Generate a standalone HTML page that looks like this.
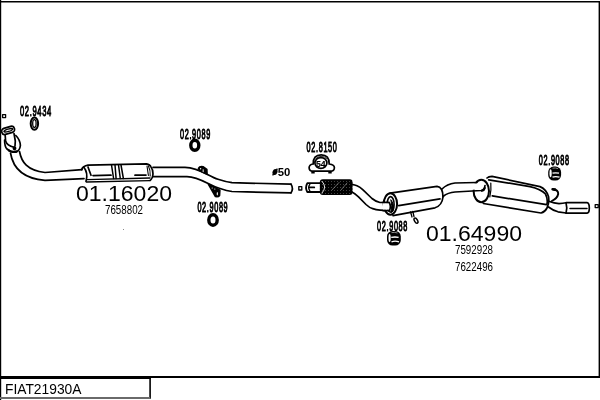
<!DOCTYPE html>
<html><head><meta charset="utf-8">
<style>
html,body{margin:0;padding:0;background:#fff;width:600px;height:400px;overflow:hidden}
svg{display:block;will-change:transform}
text{font-family:"Liberation Sans",sans-serif;fill:#000}
</style></head>
<body>
<svg width="600" height="400" viewBox="0 0 600 400">
<defs>
<pattern id="knurl" x="0" y="0" width="3" height="3" patternUnits="userSpaceOnUse">
<rect width="3" height="3" fill="#000"/>
<circle cx="1.5" cy="1.5" r="0.4" fill="#999"/>
</pattern>
</defs>
<!-- frame -->
<g fill="none" stroke="#000">
<path d="M0.6 0 V400" stroke-width="1.2"/>
<path d="M0 1.7 H600" stroke-width="1.4"/>
<path d="M599.3 1 V378" stroke-width="1.4"/>
<path d="M0 377 H600" stroke-width="2"/>
<path d="M0 378.2 H150.9" stroke-width="1.6"/>
<path d="M150.1 377 V398.8" stroke-width="1.6"/>
<path d="M0 398 H150.1" stroke-width="2" stroke="#6a6a6a"/>
</g>

<g fill="none" stroke="#000" stroke-width="1.7" stroke-linecap="round" stroke-linejoin="round">
<!-- ===== front section ===== -->
<!-- flange -->
<rect x="-6.6" y="-3.1" width="13.2" height="6.2" rx="3" transform="translate(8.1 130.4) rotate(-16)" fill="#fff"/>
<ellipse cx="0" cy="0" rx="4.6" ry="1.2" transform="translate(8.3 130.3) rotate(-16)" stroke-width="1.3"/>
<!-- tube under flange -->
<path d="M5.2,135.5 L5.6,141 Q7,145.5 14,147.3 M14,133.5 L15.3,141 L15,146"/>
<!-- collar -->
<path d="M4.6,140 Q4.6,147 7,149 Q11,152.6 16,152.2 Q19.8,150.5 20.4,145.5 Q20,139.5 15.8,135.5"/>
<path d="M9,150.6 Q12.5,152.6 17,151.3" stroke-width="2.2"/>
<circle cx="14.5" cy="148.2" r="1.1" fill="#000"/>
<!-- downpipe -->
<path d="M19.5,151.5 C21.5,162 27,170.5 45,172.5 L82,169.6"/>
<path d="M10.5,153 C13,168 22,178.5 45,180.3 L84,178.6"/>
<!-- cat / muffler 1 -->
<path d="M81.6,169.6 Q83,166 88,165.2 L146.5,163.9 Q150,164.5 151,167 Q153,169.5 153,174 Q152.5,179 150,180.4" />
<path d="M83.7,167 Q88.5,173 86,181.5"/>
<path d="M87,179.6 L150,178 M86.5,182 L150,180.6" stroke-width="1.4"/>
<path d="M88,167 L91,175.3 M93,175.6 L111,175.2 M135,175.2 L146,175.1"/>
<path d="M147,166 L148.4,175.5 M148.4,166 Q150.6,170 150.2,176" stroke-width="1.1"/>
<path d="M111.5,165 L113.6,178.5 M115,165 L116.1,178.5 M118.5,165 L120.3,178.5 M121,165 L123.4,178.5" stroke-width="1.5"/>
<!-- tailpipe -->
<path d="M153,167.3 L185,167.4 C200,168 208,176 218,179.2 Q226,181.8 232,182.7 L247,183.1 L291,184.1"/>
<path d="M153,176.6 L187,176.7 C200,177 210,186 220,188.5 Q227,190.8 232,191.5 L247,191.9 L291,192.9"/>
<path d="M291,184.1 Q293.8,188.5 291,192.9"/>
<!-- hangers -->
<path d="M198.5,168.3 Q199.5,166.3 203,166.8 L206.8,169.5 L207,174 L199.5,170.5 Z" fill="#000"/>
<circle cx="200.6" cy="168.7" r="0.7" fill="#fff" stroke="none"/><rect x="202.7" y="169.3" width="0.9" height="2.8" fill="#fff" stroke="none"/>
<path d="M208.5,184.3 L219.8,190.2 L219.5,195.5 Q218.5,197 215.5,196.5 Z" fill="#000"/>
<circle cx="212.2" cy="188" r="0.6" fill="#fff" stroke="none"/><circle cx="214.8" cy="189" r="0.6" fill="#fff" stroke="none"/><ellipse cx="217.3" cy="193.8" rx="0.6" ry="1.7" fill="#fff" stroke="none"/>
<!-- small squares -->
<rect x="298.8" y="186.6" width="3" height="3.4" stroke-width="1.3"/>
<rect x="595.2" y="204.6" width="3" height="3" stroke-width="1.3"/>
<rect x="2.6" y="114.6" width="3" height="3" stroke-width="1.3"/>

<!-- ===== rear section ===== -->
<!-- inlet pipe -->
<path d="M320,183.2 L307.3,183.2 Q304.8,187.6 307.3,192 L320,192" stroke-width="1.8"/>
<path d="M309.8,184.4 Q307.6,187.5 309.8,190.8" stroke-width="1.4"/>
<path d="M309.2,187.4 L314.3,187.4" stroke-width="1.7"/>
<!-- knurled coupling -->
<rect x="319.8" y="179.2" width="32.8" height="15.8" rx="3" fill="url(#knurl)" stroke="none"/>
<path d="M322,181.3 Q327.5,187 322,193" stroke="#fff" stroke-width="0.9"/>
<path d="M332,190 L339,182.5 M341,190 L347,183" stroke="#aaa" stroke-width="0.6"/>
<!-- pipe to muffler 2 -->
<path d="M351.8,184.4 Q355,185 357,185.7 Q360,187 363,189.8 L372,198.5 Q376,201.8 380,202.5 L389,202.3"/>
<path d="M352,192 Q355,193.5 358.5,196.8 L366,204.5 Q369.5,207.8 372.7,208.6 Q376,209.8 380,210.1 L389,210.6"/>
<!-- muffler 2 -->
<path d="M390,193.2 L437,186.4 Q443,187.2 443,197 Q442,205.6 435,207.8 L393,215.6" fill="#fff"/>
<ellipse cx="390.4" cy="204" rx="6.7" ry="10.7" fill="#fff" stroke-width="2"/>
<ellipse cx="390.6" cy="204.4" rx="3.5" ry="7.8" stroke-width="1.6"/>
<path d="M391,200 Q394.5,204 393,211 Q392,213 391,212 Q392.5,206 391,200Z" fill="#000" stroke-width="1"/>
<rect x="383" y="203.1" width="6.5" height="6.7" fill="#fff" stroke="none"/>
<path d="M383,202.3 L389,202.3 Q391.5,206 389.5,210.6 L383,210.6" stroke-width="1.7"/>
<path d="M398.7,205.6 L440,198.8"/>
<path d="M410.5,211.8 L412,217 M412.8,211.5 L414,216.5" stroke-width="1.3"/>
<ellipse cx="416" cy="220.6" rx="1.5" ry="2.9" transform="rotate(-30 416 220.6)" stroke-width="1.5"/>
<!-- pipe to rear muffler -->
<!-- rear muffler -->
<path d="M487,178 Q488.5,176.5 492,176.4 L540,186.6 Q546,189 548.5,196.5 Q549.5,203 547,208 Q545,212 541,213 L483.3,203.5"/>
<path d="M488.7,179.8 L530,186.6 Q541,189 545.5,194 Q548,199 547,204"/>
<path d="M492.3,195.9 L546.5,204.7"/>
<path d="M490.8,183 Q491.5,190 489.8,197" stroke-width="1.2"/>
<ellipse cx="481.3" cy="191" rx="7.7" ry="11.2" fill="#fff" stroke-width="2"/>
<rect x="470" y="183.3" width="11" height="6.4" fill="#fff" stroke="none"/>
<path d="M442,189 Q447,184 455,183 L476.5,182.5"/>
<path d="M443,196.5 Q448,192.5 455,192 L481,190.5 Q484.5,190 485,185.5"/>
<path d="M482,190.8 Q484.2,190.2 484.8,188" stroke-width="2.2"/>
<!-- hook -->
<path d="M553,189.3 Q558.4,189.8 558.2,194 Q557.4,198.3 551.8,201" stroke-width="1.9"/>
<path d="M552.6,189.2 L555,189.6" stroke-width="2.6"/>
<!-- tail -->
<path d="M549.5,201.5 Q554,203.2 559,203.6 Q563,203.6 566,202.8 M548.5,207 Q553,210.5 558,211.8 L566,213"/>
<path d="M566,202.7 L587,202.7 Q589.3,203 589.3,208 Q589.3,213 587,213.2 L566,213.2 Q567.6,208 566,202.7Z" fill="#fff"/>
<path d="M570,208.5 L587,208.5" stroke-width="1.5"/>
</g>

<!-- parts -->
<g fill="none" stroke="#000">
<ellipse cx="34.4" cy="123.6" rx="3.7" ry="6.1" stroke-width="2"/>
<ellipse cx="34.4" cy="123.6" rx="1.7" ry="3.9" stroke-width="1.3"/>
<ellipse cx="194.8" cy="145.3" rx="4" ry="5" stroke-width="3.4"/>
<ellipse cx="213" cy="220" rx="4.2" ry="5.2" stroke-width="3.4"/>
<!-- clamp 02.8150 -->
<path d="M313.2,164 Q313,154.8 321.2,154.8 Q329.4,154.8 329.2,164 Q334.4,164.6 334.4,167.8 Q334.3,171.2 330.5,171.2 L313,171.2 Q309.1,171.2 309.1,167.8 Q309.1,164.6 313.2,164Z" fill="#fff" stroke-width="1.7"/>
<path d="M315.6,158.8 Q317.5,156.5 321.2,156.5 Q325,156.5 326.8,158.8" stroke-width="0.9"/>
<ellipse cx="320.9" cy="163" rx="6" ry="5.4" fill="#fff" stroke-width="1.7"/>
<path d="M313,171 V173.6 M330,171 V173.6" stroke-width="3.4"/>
</g>
<text x="316" y="166.9" font-size="9.6" font-weight="bold" textLength="9.6" lengthAdjust="spacingAndGlyphs" stroke="#000" stroke-width="0.2">54</text>
<!-- mounts 02.9088 -->
<g>
<rect x="387" y="231" width="13.8" height="14.6" rx="5.5" fill="#000"/>
<path d="M391.2,237.4 Q395,236.6 398.6,237.4" stroke="#fff" stroke-width="1.3" fill="none"/>
<path d="M391.5,241.8 Q395,240.4 399,241.8" stroke="#fff" stroke-width="1.3" fill="none"/>
<path d="M391.5,232.6 Q395,232 397.5,233" stroke="#888" stroke-width="1" fill="none"/>
<ellipse cx="389.6" cy="238" rx="1.1" ry="4" fill="#fff"/>
<rect x="548.2" y="166.6" width="12.9" height="14" rx="5.5" fill="#000"/>
<path d="M552.5,173.2 Q555.5,172.6 559,173.2" stroke="#fff" stroke-width="1.3" fill="none"/>
<path d="M552.5,177.2 Q555.5,176 559.5,177.2" stroke="#fff" stroke-width="1.3" fill="none"/>
<path d="M552.5,168.2 Q555.5,167.6 558,168.6" stroke="#888" stroke-width="1" fill="none"/>
<ellipse cx="550.6" cy="173.2" rx="1.1" ry="4" fill="#fff"/>
</g>

<!-- big labels -->
<text x="76" y="200.6" font-size="22" textLength="96" lengthAdjust="spacingAndGlyphs">01.16020</text>
<text x="426" y="240.8" font-size="22" textLength="96" lengthAdjust="spacingAndGlyphs">01.64990</text>
<text x="105" y="214" font-size="12.5" textLength="38" lengthAdjust="spacingAndGlyphs">7658802</text>
<text x="455" y="254" font-size="12.5" textLength="38" lengthAdjust="spacingAndGlyphs">7592928</text>
<text x="455" y="271" font-size="12.5" textLength="38" lengthAdjust="spacingAndGlyphs">7622496</text>
<text x="5" y="393.7" font-size="13.8">FIAT21930A</text>
<!-- small labels -->
<g stroke="#000" stroke-width="1">
<text transform="translate(20 115.8) scale(0.5 1)" font-size="15.2" letter-spacing="1.3">02.9434</text>
<text transform="translate(180 138.5) scale(0.5 1)" font-size="14.6" letter-spacing="1.3">02.9089</text>
<text transform="translate(197.4 212.4) scale(0.5 1)" font-size="14.6" letter-spacing="1.3">02.9089</text>
<text transform="translate(306.6 152.3) scale(0.5 1)" font-size="14.6" letter-spacing="1.3">02.8150</text>
<text transform="translate(377.1 230.7) scale(0.5 1)" font-size="14.6" letter-spacing="1.3">02.9088</text>
<text transform="translate(538.8 165.3) scale(0.5 1)" font-size="14.6" letter-spacing="1.3">02.9088</text>
</g>
<text x="277.8" y="175.8" font-size="11" font-weight="bold" textLength="12.6" lengthAdjust="spacingAndGlyphs">50</text>
<ellipse cx="275" cy="172" rx="2.4" ry="3" transform="rotate(25 275 172)" fill="#000"/><path d="M272.6,175.3 L277.4,168.6" stroke="#000" stroke-width="1.4"/>
<rect x="123" y="229" width="1" height="1" fill="#8a8a8a"/>
</svg>
</body></html>
